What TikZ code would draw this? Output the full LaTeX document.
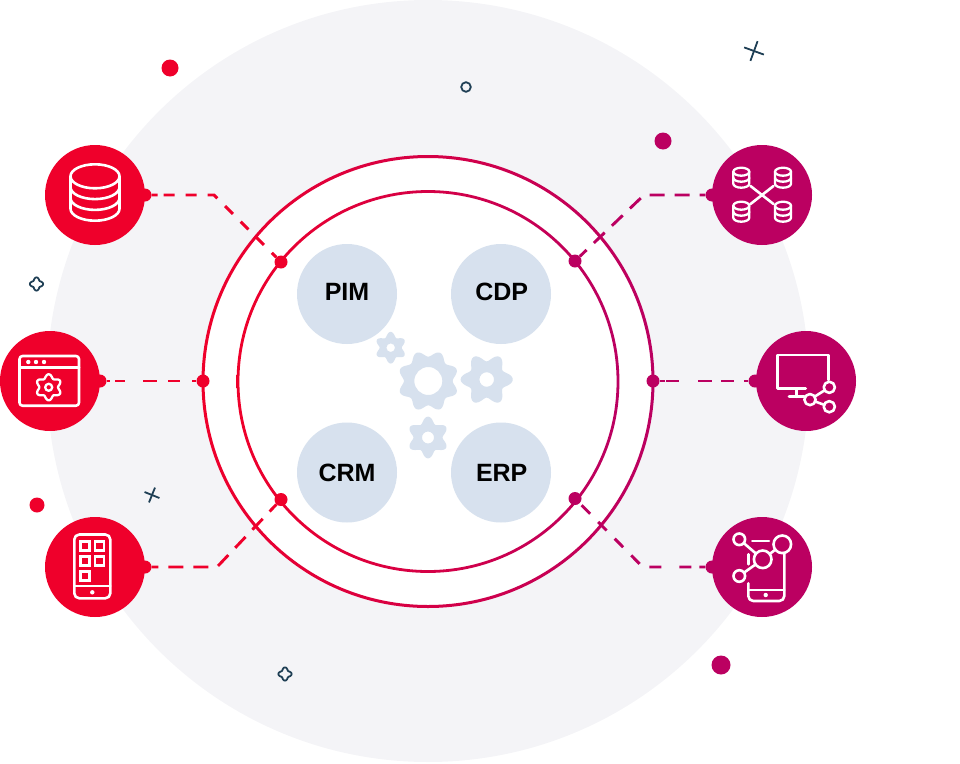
\documentclass[tikz,border=0pt]{standalone}
\usepackage{fontspec}
\setmainfont{Liberation Sans}
\definecolor{cred}{HTML}{EF002B}
\definecolor{cmag}{HTML}{BB0061}
\definecolor{cbg}{HTML}{F4F4F7}
\definecolor{cblue}{HTML}{D7E1EE}
\definecolor{cnavy}{HTML}{1F3F55}
\tikzset{
  declare function={
    gc(\t,\n,\p)=cos(\n*(\t-\p));
    gs(\t,\n,\p)=0.5+0.5*gc(\t,\n,\p);
  },
  hub/.style={circle,fill=cblue,minimum size=100pt,inner sep=0pt},
  hubtext/.style={font=\fontsize{25}{28}\selectfont\bfseries,text=black,inner sep=0pt},
  iconred/.style={circle,fill=cred,minimum size=100pt,inner sep=0pt},
  iconmag/.style={circle,fill=cmag,minimum size=100pt,inner sep=0pt},
  dotred/.style={circle,fill=cred,minimum size=13pt,inner sep=0pt},
  dotmag/.style={circle,fill=cmag,minimum size=13pt,inner sep=0pt},
  linkred/.style={draw=cred,line width=2.9pt},
  linkmag/.style={draw=cmag,line width=2.9pt},
  ico/.style={draw=white,line width=2.6pt,line cap=round,line join=round},
  icothin/.style={draw=white,line width=2.3pt,line cap=round,line join=round},
  deco/.style={draw=cnavy,line width=1.8pt},
}
% x, y, R, teeth, phase, depth
\newcommand{\gearcurve}[6]{plot[samples=241,domain=0:360,variable=\t]
  ({#1+#3*(1-#6*(1-gs(\t,#4,#5)))*cos(\t)},{#2+#3*(1-#6*(1-gs(\t,#4,#5)))*sin(\t)}) -- cycle}
% x, y of a small stacked database
\newcommand{\minidb}[2]{
  \draw[icothin] (#1,#2) ellipse[x radius=8pt,y radius=4pt];
  \draw[icothin] (#1-8,#2) -- (#1-8,#2+12)
    arc[start angle=180,end angle=360,x radius=8pt,y radius=4pt] -- (#1+8,#2);
  \draw[icothin] (#1-8,#2+6) arc[start angle=180,end angle=360,x radius=8pt,y radius=4pt];
}
\newcommand{\quatre}[2]{\draw[deco] plot[samples=97,domain=0:360,variable=\t]
  ({#1+(5.5+1.1*cos(4*\t))*cos(\t)},{#2+(5.5+1.1*cos(4*\t))*sin(\t)}) -- cycle;}
\newcommand{\crossmark}[4]{% x y half angle
  \draw[deco] (#1,#2) ++(#4:#3pt) -- ++(#4+180:2*#3 pt);
  \draw[deco] (#1,#2) ++(#4+90:#3pt) -- ++(#4+270:2*#3 pt);}
\begin{document}
\begin{tikzpicture}[x=1pt,y=-1pt]
\useasboundingbox (0,0) rectangle (960,763);
% background
\fill[cbg] (428,381) circle (381pt);
\fill[white] (428,381.5) circle (225pt);
% rings
\shade[even odd rule,left color=cred,right color=cmag] (428,381.5) circle (226.5pt) (428,381.5) circle (223.5pt);
\shade[even odd rule,left color=cred,right color=cmag] (428,381.5) circle (191.4pt) (428,381.5) circle (188.6pt);
% scatter
\fill[cred] (170,68) circle (8.5pt);
\fill[cred] (37,505) circle (7.5pt);
\fill[cmag] (663,141) circle (8.5pt);
\fill[cmag] (721,665) circle (9.5pt);
\draw[deco] (466,87) circle (4.8pt);
\crossmark{754}{51}{10.5}{-20}
\crossmark{152}{495}{8}{-22}
\quatre{36.5}{284}
\quatre{285}{674}
% hubs
\node[hub] (pim) at (347,294) {};
\node[hub] (cdp) at (501,294) {};
\node[hub] (crm) at (347,472.5) {};
\node[hub] (erp) at (501,472.5) {};
\node[hubtext] (pimt) at (347,292) {PIM};
\node[hubtext] (cdpt) at (501.7,292) {CDP};
\node[hubtext] (crmt) at (347,473) {CRM};
\node[hubtext] (erpt) at (501.7,473) {ERP};
% gears
\fill[cblue,even odd rule] \gearcurve{428.3}{381}{30.5}{8}{22.5}{0.2} (428.3,381) circle (14pt);
\fill[cblue,even odd rule] \gearcurve{486.7}{379.5}{26}{6}{0}{0.3} (486.7,379.5) circle (7.3pt);
\fill[cblue,even odd rule] \gearcurve{390.7}{347.7}{15.8}{6}{30}{0.3} (390.7,347.7) circle (4.3pt);
\fill[cblue,even odd rule] \gearcurve{428}{437.5}{20.8}{6}{30}{0.3} (428,437.5) circle (6pt);
% icon discs
\node[iconred] (idb) at (95,195) {};
\node[iconred] (iwin) at (50,381) {};
\node[iconred] (iphone) at (95,567) {};
\node[iconmag] (inet) at (762,195) {};
\node[iconmag] (imon) at (806,381) {};
\node[iconmag] (imob) at (762,567) {};
% dots
\node[dotred] (d1) at (145,195) {};
\node[dotred] (d2) at (100,381) {};
\node[dotred] (d3) at (145,567) {};
\node[dotmag] (d4) at (712,195) {};
\node[dotmag] (d5) at (755,381) {};
\node[dotmag] (d6) at (712,567) {};
\node[dotred] (r1) at (281,262) {};
\node[dotred] (r2) at (203,381) {};
\node[dotred] (r3) at (281,499.5) {};
\node[dotmag] (r4) at (575,261) {};
\node[dotmag] (r5) at (653,381) {};
\node[dotmag] (r6) at (575,498.5) {};
\coordinate (b1) at (214,195);
\coordinate (b3) at (217,567);
\coordinate (b4) at (644,195);
\coordinate (b6) at (642.7,567);
% connectors
\draw[linkred,dash pattern=on 6pt off 6pt on 11pt off 11pt on 11pt off 11pt on 11pt off 11pt on 11pt off 11pt on 11pt off 11pt on 11pt off 11pt on 11pt off 11pt] (d1) -- (b1) -- (r1);
\draw[linkred,dash pattern=on 3.5pt off 5pt on 10pt off 18pt on 14pt off 11pt on 12pt off 12pt on 30pt off 0pt] (d2) -- (r2);
\draw[linkred,dash pattern=on 15pt off 10pt,dash phase=8.25pt] (d3) -- (b3) -- (r3);
\draw[linkmag,dash pattern=on 15pt off 10pt,dash phase=9.25pt] (d4) -- (b4) -- (r4);
\draw[linkmag,dash pattern=on 4.5pt off 10pt on 13pt off 9pt on 14pt off 19pt on 13pt off 0.8pt on 20pt off 0pt] (d5) -- (r5);
\draw[linkmag,dash pattern=on 6pt off 8pt on 12pt off 18pt on 12pt off 11pt on 12pt off 11.5pt on 12pt off 11.5pt on 12pt off 11.5pt on 12pt off 11.5pt on 12pt off 11.5pt] (d6) -- (b6) -- (r6);
% database icon
\draw[ico] (95,176.3) ellipse[x radius=24.5pt,y radius=12pt];
\draw[ico] (70.5,176.3) -- (70.5,208.7) arc[start angle=180,end angle=360,x radius=24.5pt,y radius=12pt] -- (119.5,176.3);
\draw[ico] (70.5,187.1) arc[start angle=180,end angle=360,x radius=24.5pt,y radius=12pt];
\draw[ico] (70.5,197.9) arc[start angle=180,end angle=360,x radius=24.5pt,y radius=12pt];
% window icon
\draw[ico,rounded corners=3pt] (19.5,356) rectangle (79,405.7);
\draw[ico] (19.5,367.3) -- (79,367.3);
\fill[white] (28.3,362) circle (2.2pt) (36,362) circle (2.2pt) (44,362) circle (2.2pt);
\draw[icothin] \gearcurve{48.7}{387.3}{13}{6}{30}{0.28};
\draw[icothin] (48.7,387.3) circle (3.5pt);
% phone icon
\draw[ico,rounded corners=5pt] (74.3,534.5) rectangle (110.3,598.3);
\draw[ico] (74.3,586) -- (110.3,586);
\foreach \px/\py in {85/545.7,99.3/545.7,85/560.7,99.3/560.7,85/575.7}
  \draw[ico,line cap=butt,line join=miter] (\px-4.5,\py-4.5) rectangle (\px+4.5,\py+4.5);
\fill[white] (92.3,592.3) circle (2.2pt);
% network of databases icon
\draw[ico] (750.5,186) -- (773.5,204);
\draw[ico] (773.5,186) -- (750.5,204);
\minidb{741.3}{171.7}
\minidb{783}{171.7}
\minidb{741.3}{205.7}
\minidb{783}{205.7}
% monitor icon
\draw[ico] (805.7,388.3) -- (777.7,388.3) -- (777.7,355) -- (828.3,355) -- (828.3,380);
\draw[ico] (796.7,388.3) -- (796.7,396.7);
\draw[ico] (789,396.7) -- (804.3,396.7);
\draw[ico] (829.3,387.3) -- (810,399.6) -- (829.3,406.7);
\filldraw[ico,fill=cmag] (829.3,387.3) circle (5.6pt);
\filldraw[ico,fill=cmag] (810,399.6) circle (5.6pt);
\filldraw[ico,fill=cmag] (829.3,406.7) circle (5.6pt);
% mobile network icon
\draw[ico,rounded corners=5pt] (784.3,553) -- (784.3,601) -- (748.3,601) -- (748.3,583.3);
\draw[ico] (748.3,590) -- (784.3,590);
\fill[white] (765.7,595) circle (2.2pt);
\draw[ico] (752.3,541) -- (769,541);
\draw[ico] (748.3,554.3) -- (748.3,564.3);
\draw[ico] (739.3,539.3) -- (762.7,559.3) -- (782.3,544.3);
\draw[ico] (739.3,576) -- (762.7,559.3);
\filldraw[ico,fill=cmag] (739.3,539.3) circle (5.8pt);
\filldraw[ico,fill=cmag] (782.3,544.3) circle (8.8pt);
\filldraw[ico,fill=cmag] (762.7,559.3) circle (8.8pt);
\filldraw[ico,fill=cmag] (739.3,576) circle (5.8pt);
\end{tikzpicture}
\end{document}
